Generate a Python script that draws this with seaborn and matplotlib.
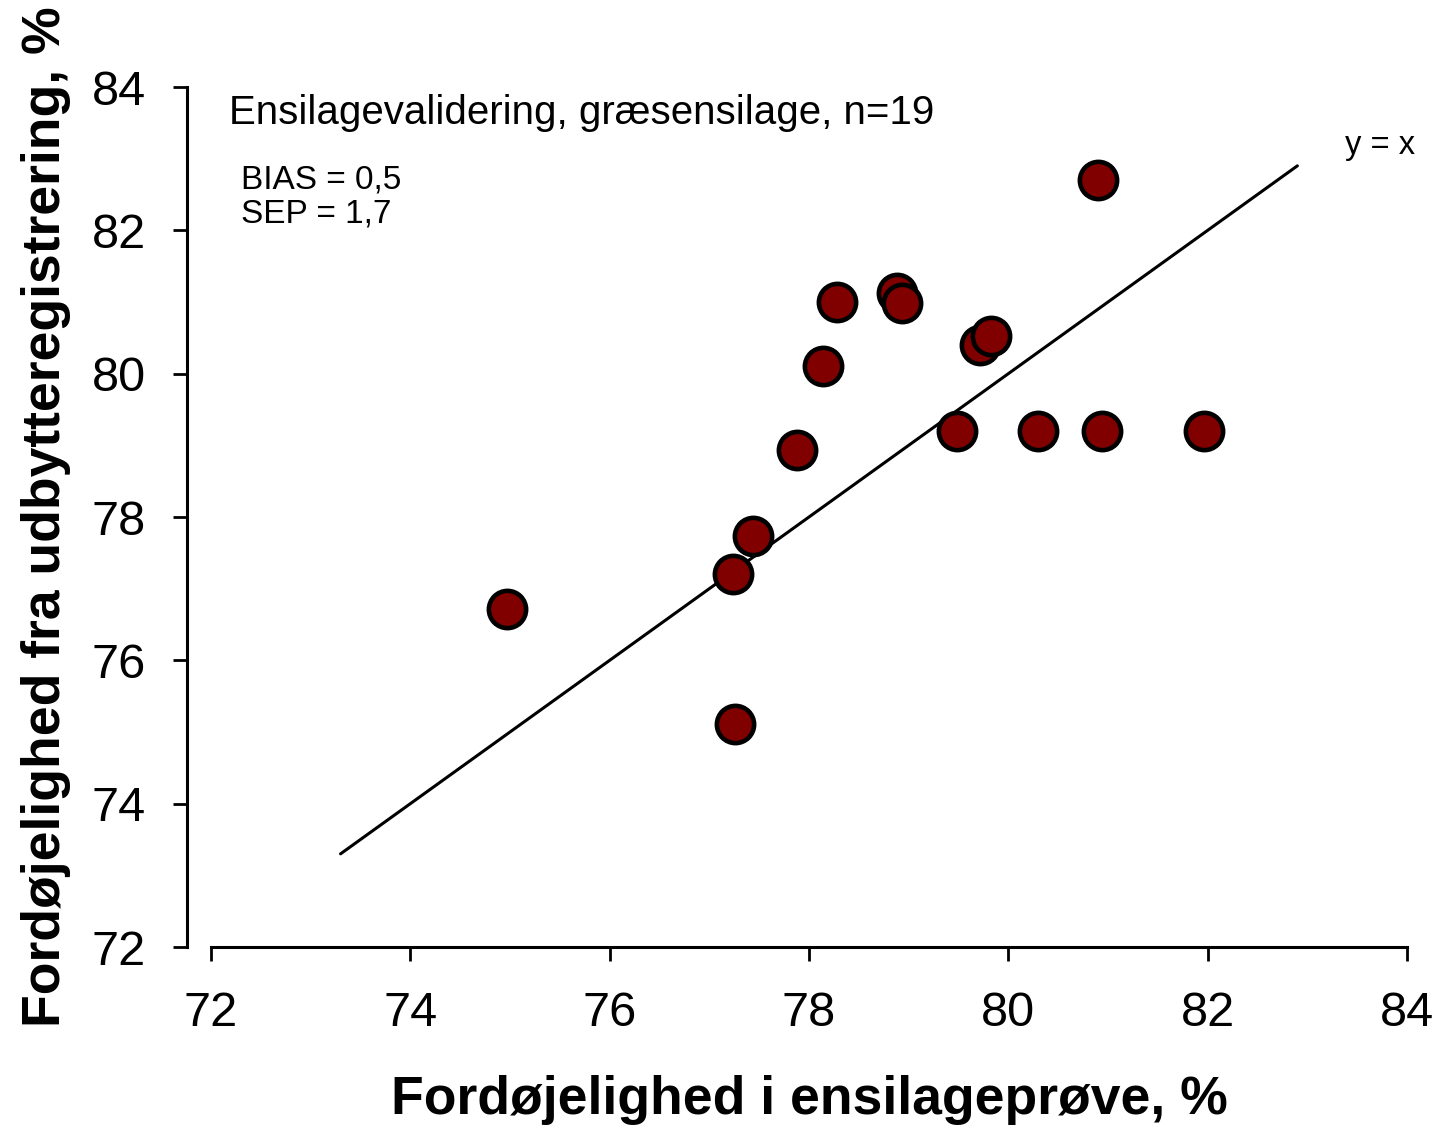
import matplotlib
matplotlib.use("Agg")
import matplotlib.pyplot as plt
import seaborn as sns
import pandas as pd

# Digestibility measured in the silage sample vs. derived from yield registration
sample_digest = [74.97, 77.24, 77.26, 77.44, 77.88, 78.14, 78.28, 78.88, 78.93,
                 79.48, 79.72, 79.83, 80.30, 80.90, 80.94, 81.96]
yield_digest = [76.72, 77.21, 75.11, 77.73, 78.93, 80.11, 81.00, 81.12, 80.98,
                79.20, 80.40, 80.52, 79.20, 82.70, 79.20, 79.20]

# 1:1 reference line end points
ref_x = [73.3, 82.9]
ref_y = [73.3, 82.9]

x_ticks = [72, 74, 76, 78, 80, 82, 84]
y_ticks = [72, 74, 76, 78, 80, 82, 84]

title_text = "Ensilagevalidering, græsensilage, n=19"
stats_text = "BIAS = 0,5\nSEP = 1,7"
ref_label = "y = x"
x_label = "Fordøjelighed i ensilageprøve, %"
y_label = "Fordøjelighed fra udbytteregistrering, %"

df = pd.DataFrame({"x": sample_digest, "y": yield_digest})

sns.set_theme(style="white")
plt.rcParams["font.family"] = ["Liberation Sans", "DejaVu Sans"]
plt.rcParams["text.color"] = "black"
plt.rcParams["axes.labelcolor"] = "black"

fig = plt.figure(figsize=(14.35, 11.28), dpi=100)
ax = fig.add_axes([211 / 1435, 1 - 947 / 1128, (1407 - 211) / 1435, (947 - 87) / 1128])

ax.plot(ref_x, ref_y, color="black", lw=2.2, zorder=2)
sns.scatterplot(data=df, x="x", y="y", ax=ax, s=720, color="#800000",
                edgecolor="black", linewidth=3.3, zorder=3, legend=False)

ax.set_xlim(72, 84)
ax.set_ylim(72, 84)
ax.set_xticks(x_ticks)
ax.set_yticks(y_ticks)
ax.tick_params(axis="both", which="major", direction="out", length=10, width=2,
               labelsize=35, color="black", labelcolor="black", bottom=True, left=True)
ax.tick_params(axis="x", pad=22)
ax.tick_params(axis="y", pad=20)

for side in ["top", "right"]:
    ax.spines[side].set_visible(False)
for side in ["left", "bottom"]:
    ax.spines[side].set_color("black")
    ax.spines[side].set_linewidth(2.2)
ax.spines["left"].set_position(("outward", 17))

ax.set_xlabel(x_label, fontsize=38.5, fontweight="bold", labelpad=28)
ax.set_ylabel(y_label, fontsize=38.5, fontweight="bold", labelpad=15)

ax.text(72.18, 83.64, title_text, fontsize=29, ha="left", va="center")
ax.text(72.3, 82.47, stats_text, fontsize=24, ha="left", va="center", linespacing=1.13)
ax.text(83.73, 83.19, ref_label, fontsize=23.5, ha="center", va="center")

fig.savefig("out.png", dpi=100, facecolor="white")
